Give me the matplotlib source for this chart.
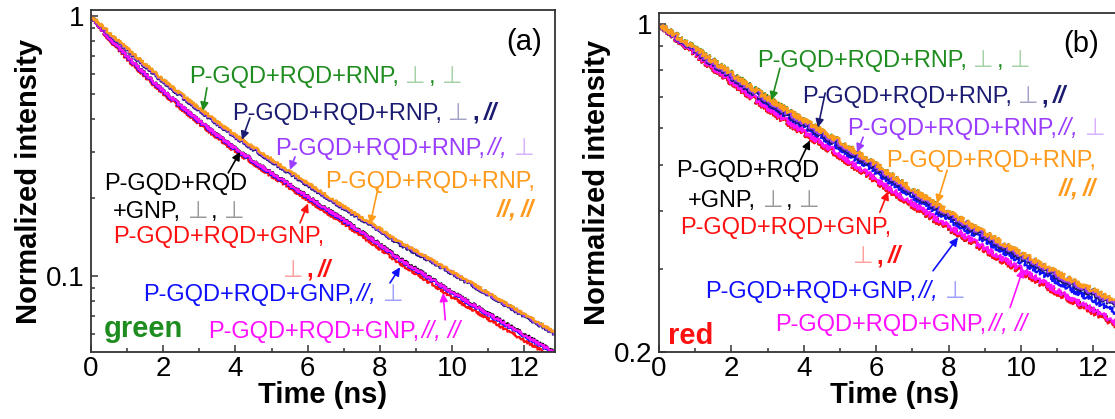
import matplotlib
matplotlib.use("Agg")
import matplotlib.pyplot as plt
import matplotlib.transforms as mtransforms
from matplotlib.ticker import FixedLocator, FixedFormatter, NullFormatter, MultipleLocator

plt.rcParams['font.family'] = ['Liberation Sans', 'DejaVu Sans']

# ---------------------------------------------------------------- data
time_ns = [0.0, 0.5, 1.0, 1.5, 2.0, 2.5, 3.0, 3.5, 4.0, 4.5, 5.0, 5.5, 6.0, 6.5,
           7.0, 7.5, 8.0, 8.5, 9.0, 9.5, 10.0, 10.5, 11.0, 11.5, 12.0, 12.5, 13.0]

# green excitation, panel (a)
g_rnp_pp = [1.000, 0.860, 0.746, 0.648, 0.566, 0.497, 0.439, 0.389, 0.346, 0.311, 0.279, 0.251, 0.226, 0.204,
            0.184, 0.166, 0.151, 0.135, 0.124, 0.113, 0.103, 0.0940, 0.0856, 0.0779, 0.0709, 0.0645, 0.0587]
g_rnp_pl = [1.000, 0.850, 0.735, 0.638, 0.557, 0.489, 0.432, 0.383, 0.341, 0.306, 0.275, 0.247, 0.223, 0.201,
            0.181, 0.164, 0.149, 0.133, 0.122, 0.112, 0.102, 0.0928, 0.0845, 0.0768, 0.0699, 0.0637, 0.0579]
g_rnp_lp = [1.000, 0.855, 0.742, 0.645, 0.563, 0.495, 0.437, 0.387, 0.344, 0.310, 0.278, 0.250, 0.226, 0.203,
            0.183, 0.166, 0.150, 0.135, 0.124, 0.113, 0.103, 0.0937, 0.0852, 0.0776, 0.0706, 0.0643, 0.0584]
g_rnp_ll = [1.000, 0.863, 0.750, 0.652, 0.569, 0.500, 0.442, 0.391, 0.348, 0.313, 0.281, 0.252, 0.228, 0.205,
            0.185, 0.167, 0.152, 0.136, 0.125, 0.114, 0.104, 0.0946, 0.0861, 0.0783, 0.0713, 0.0649, 0.0590]
g_gnp_pp = [1.000, 0.826, 0.701, 0.600, 0.517, 0.451, 0.396, 0.349, 0.310, 0.278, 0.250, 0.225, 0.203, 0.183,
            0.165, 0.148, 0.133, 0.118, 0.107, 0.0965, 0.0870, 0.0792, 0.0720, 0.0656, 0.0597, 0.0543, 0.0494]
g_gnp_pl = [1.000, 0.810, 0.683, 0.583, 0.503, 0.439, 0.385, 0.339, 0.301, 0.270, 0.242, 0.218, 0.196, 0.176,
            0.159, 0.142, 0.127, 0.113, 0.102, 0.0920, 0.0828, 0.0752, 0.0683, 0.0621, 0.0565, 0.0514, 0.0467]
g_gnp_lp = [1.000, 0.820, 0.694, 0.592, 0.511, 0.446, 0.391, 0.345, 0.306, 0.274, 0.246, 0.222, 0.200, 0.180,
            0.162, 0.146, 0.131, 0.116, 0.105, 0.0950, 0.0857, 0.0779, 0.0709, 0.0645, 0.0587, 0.0534, 0.0486]
g_gnp_ll = [1.000, 0.824, 0.700, 0.598, 0.516, 0.450, 0.395, 0.348, 0.309, 0.277, 0.249, 0.224, 0.202, 0.182,
            0.164, 0.147, 0.132, 0.117, 0.106, 0.0959, 0.0865, 0.0787, 0.0716, 0.0652, 0.0593, 0.0540, 0.0491]

# red excitation, panel (b)
r_rnp_pp = [1.000, 0.944, 0.889, 0.836, 0.786, 0.739, 0.696, 0.658, 0.623, 0.591, 0.561, 0.530, 0.500, 0.471,
            0.444, 0.419, 0.396, 0.377, 0.358, 0.340, 0.324, 0.309, 0.294, 0.281, 0.270, 0.258, 0.247]
r_rnp_pl = [1.000, 0.936, 0.876, 0.821, 0.771, 0.724, 0.681, 0.644, 0.611, 0.580, 0.551, 0.520, 0.491, 0.463,
            0.436, 0.412, 0.389, 0.370, 0.352, 0.334, 0.318, 0.304, 0.289, 0.276, 0.265, 0.254, 0.243]
r_rnp_lp = [1.000, 0.938, 0.881, 0.827, 0.777, 0.731, 0.688, 0.651, 0.617, 0.586, 0.556, 0.526, 0.496, 0.467,
            0.440, 0.416, 0.393, 0.374, 0.355, 0.338, 0.322, 0.307, 0.292, 0.279, 0.268, 0.256, 0.245]
r_rnp_ll = [1.000, 0.942, 0.887, 0.834, 0.785, 0.738, 0.695, 0.658, 0.624, 0.592, 0.562, 0.531, 0.501, 0.472,
            0.445, 0.420, 0.397, 0.378, 0.359, 0.341, 0.325, 0.310, 0.295, 0.282, 0.271, 0.259, 0.248]
r_gnp_pp = [1.000, 0.927, 0.862, 0.804, 0.752, 0.703, 0.659, 0.620, 0.585, 0.553, 0.522, 0.491, 0.463, 0.436,
            0.411, 0.388, 0.366, 0.348, 0.330, 0.313, 0.298, 0.282, 0.268, 0.255, 0.244, 0.232, 0.221]
r_gnp_pl = [1.000, 0.928, 0.862, 0.803, 0.751, 0.702, 0.658, 0.619, 0.584, 0.552, 0.521, 0.490, 0.462, 0.435,
            0.410, 0.387, 0.366, 0.348, 0.329, 0.312, 0.297, 0.281, 0.267, 0.254, 0.243, 0.231, 0.220]
r_gnp_lp = [1.000, 0.936, 0.877, 0.822, 0.771, 0.723, 0.679, 0.641, 0.607, 0.575, 0.544, 0.513, 0.484, 0.456,
            0.430, 0.406, 0.383, 0.364, 0.346, 0.328, 0.312, 0.297, 0.283, 0.269, 0.258, 0.246, 0.235]
r_gnp_ll = [1.000, 0.931, 0.867, 0.809, 0.757, 0.708, 0.664, 0.625, 0.590, 0.558, 0.527, 0.495, 0.467, 0.440,
            0.415, 0.392, 0.370, 0.352, 0.333, 0.316, 0.301, 0.285, 0.270, 0.257, 0.246, 0.234, 0.223]

C_GREEN = '#1e8c1e'
C_NAVY = '#1b1b72'
C_PURPLE = '#9b3dff'
C_ORANGE = '#ff9a1a'
C_BLACK = '#000000'
C_RED = '#ff1010'
C_BLUE = '#1010ff'
C_MAGENTA = '#ff10ff'

W, H = 1115, 419
fig = plt.figure(figsize=(W / 100, H / 100), dpi=100)
ax_g = fig.add_axes([91 / W, 1 - 352 / H, 464 / W, 342 / H])
ax_r = fig.add_axes([659 / W, 1 - 352 / H, 13.0 * 36.2 / W, 339 / H])

TICK_PT = 20
LAB_PT = 21
TXT_PT = 17


def style_axes(ax, ylim, ymajor, ylabels, yminor, xmax):
    ax.set_yscale('log')
    ax.set_xlim(0, xmax)
    ax.set_ylim(*ylim)
    ax.yaxis.set_major_locator(FixedLocator(ymajor))
    ax.yaxis.set_major_formatter(FixedFormatter(ylabels))
    ax.yaxis.set_minor_locator(FixedLocator(yminor))
    ax.yaxis.set_minor_formatter(NullFormatter())
    ax.xaxis.set_major_locator(MultipleLocator(2))
    ax.xaxis.set_minor_locator(MultipleLocator(1))
    ax.tick_params(which='both', direction='in', top=False, right=False,
                   labelsize=TICK_PT, width=1.1, color='#333333')
    ax.tick_params(which='major', length=5, pad=5)
    ax.tick_params(which='minor', length=3)
    ax.tick_params(axis='x', which='major', pad=3)
    for sp in ax.spines.values():
        sp.set_color('#333333')
        sp.set_linewidth(1.3)
    ax.set_xlabel('Time (ns)', fontsize=LAB_PT, fontweight='bold', labelpad=-1)
    ax.set_ylabel('Normalized intensity', fontsize=LAB_PT, fontweight='bold', labelpad=2)


style_axes(ax_g, (0.051, 1.054), [0.1, 1], ['0.1', '1'],
           [0.06, 0.07, 0.08, 0.09, 0.2, 0.3, 0.4, 0.5, 0.6, 0.7, 0.8, 0.9], 12.85)
style_axes(ax_r, (0.2, 1.056), [0.2, 1], ['0.2', '1'],
           [0.3, 0.4, 0.5, 0.6, 0.7, 0.8, 0.9], 13.0)


def trace(ax, y, color, scale, lw):
    ln, = ax.plot(time_ns, y, color=color, lw=lw, solid_joinstyle='round')
    ln.set_sketch_params(scale=scale, length=2.0, randomness=3.0)


for y, c in [(g_gnp_pp, C_BLACK), (g_gnp_pl, C_RED), (g_gnp_lp, C_BLUE), (g_gnp_ll, C_MAGENTA),
             (g_rnp_pp, C_GREEN), (g_rnp_pl, C_NAVY), (g_rnp_lp, C_PURPLE), (g_rnp_ll, C_ORANGE)]:
    trace(ax_g, y, c, 1.3, 1.6)

for y, c in [(r_gnp_pp, C_BLACK), (r_gnp_pl, C_RED), (r_gnp_ll, C_MAGENTA), (r_gnp_lp, C_BLUE),
             (r_rnp_pl, C_NAVY), (r_rnp_pp, C_GREEN), (r_rnp_lp, C_PURPLE), (r_rnp_ll, C_ORANGE)]:
    trace(ax_r, y, c, 2.6, 1.6)

renderer = fig.canvas.get_renderer()


def rich_label(ax, x, y, pieces):
    """Draw a run of differently styled text pieces on one baseline."""
    dx = 0.0
    for text, color, kw, gap in pieces:
        tr = mtransforms.offset_copy(ax.transData, fig=fig, x=dx, y=0, units='dots')
        t = ax.text(x, y, text, transform=tr, fontsize=TXT_PT, color=color,
                    va='baseline', ha='left', **kw)
        dx += t.get_window_extent(renderer).width + gap


PERP = '\u22a5'
N = {}
FADE = {'alpha': 0.4}
IT = {'style': 'italic'}
BI = {'style': 'italic', 'weight': 'bold'}
BD = {'weight': 'bold'}
SP = 6.6


def labels(ax, pos):
    rich_label(ax, *pos['green'], [('P-GQD+RQD+RNP,', C_GREEN, N, SP), (PERP, C_GREEN, FADE, 3),
                                   (',', C_GREEN, N, SP), (PERP, C_GREEN, FADE, 0)])
    rich_label(ax, *pos['navy'], [('P-GQD+RQD+RNP,', C_NAVY, N, SP), (PERP, C_NAVY, FADE, 3),
                                  (',', C_NAVY, BD, 5), ('//', C_NAVY, BI, 0)])
    rich_label(ax, *pos['purple'], [('P-GQD+RQD+RNP,', C_PURPLE, N, 2), ('//,', C_PURPLE, IT, SP),
                                    (PERP, C_PURPLE, FADE, 0)])
    rich_label(ax, *pos['orange1'], [('P-GQD+RQD+RNP,', C_ORANGE, N, 0)])
    rich_label(ax, *pos['orange2'], [('//,', C_ORANGE, BI, 4), ('//', C_ORANGE, BI, 0)])
    rich_label(ax, *pos['black1'], [('P-GQD+RQD', C_BLACK, N, 0)])
    rich_label(ax, *pos['black2'], [('+GNP,', C_BLACK, N, SP), (PERP, C_BLACK, FADE, 3),
                                    (',', C_BLACK, N, SP), (PERP, C_BLACK, FADE, 0)])
    rich_label(ax, *pos['red1'], [('P-GQD+RQD+GNP,', C_RED, N, 0)])
    rich_label(ax, *pos['red2'], [(PERP, C_RED, FADE, 3), (',', C_RED, BD, 5), ('//', C_RED, BI, 0)])
    rich_label(ax, *pos['blue'], [('P-GQD+RQD+GNP,', C_BLUE, N, 2), ('//,', C_BLUE, IT, SP),
                                  (PERP, C_BLUE, FADE, 0)])
    rich_label(ax, *pos['magenta'], [('P-GQD+RQD+GNP,', C_MAGENTA, N, 2), ('//,', C_MAGENTA, IT, SP),
                                     ('//', C_MAGENTA, IT, 0)])


def arrows(ax, spec):
    for (tail, tip), c in spec:
        ax.annotate('', xy=tip, xytext=tail,
                    arrowprops=dict(arrowstyle='-|>', color=c, lw=1.2, mutation_scale=12,
                                    shrinkA=0, shrinkB=0))


labels(ax_g, {
    'green': (2.71, 0.552), 'navy': (3.90, 0.398), 'purple': (5.10, 0.292),
    'black1': (0.36, 0.214), 'black2': (0.61, 0.167),
    'red1': (0.61, 0.134), 'red2': (5.32, 0.0991),
    'orange1': (6.48, 0.218), 'orange2': (11.25, 0.1686),
    'blue': (1.44, 0.0801), 'magenta': (3.24, 0.0578),
})
arrows(ax_g, [
    (((3.21, 0.529), (3.10, 0.432)), C_GREEN),
    (((4.40, 0.405), (4.18, 0.334)), C_NAVY),
    (((5.65, 0.287), (5.51, 0.256)), C_PURPLE),
    (((3.80, 0.249), (4.13, 0.300)), C_BLACK),
    (((7.95, 0.218), (7.73, 0.158)), C_ORANGE),
    (((5.79, 0.160), (6.01, 0.190)), C_RED),
    (((8.28, 0.094), (8.56, 0.108)), C_BLUE),
    (((9.81, 0.0678), (9.75, 0.086)), C_MAGENTA),
])
ax_g.text(0.36, 0.0583, 'green', color=C_GREEN, fontsize=LAB_PT, fontweight='bold',
          va='baseline', ha='left')
ax_g.text(0.972, 0.906, '(a)', transform=ax_g.transAxes, fontsize=21,
          ha='right', va='center')

labels(ax_r, {
    'green': (2.70, 0.809), 'navy': (3.94, 0.678), 'purple': (5.19, 0.579),
    'black1': (0.46, 0.471), 'black2': (0.80, 0.408),
    'red1': (0.58, 0.357), 'red2': (5.36, 0.309),
    'orange1': (6.27, 0.495), 'orange2': (11.05, 0.431),
    'blue': (1.27, 0.261), 'magenta': (3.20, 0.222),
})
arrows(ax_r, [
    (((3.34, 0.805), (3.11, 0.688)), C_GREEN),
    (((4.59, 0.713), (4.39, 0.602)), C_NAVY),
    (((5.64, 0.574), (5.47, 0.533)), C_PURPLE),
    (((3.84, 0.500), (4.17, 0.565)), C_BLACK),
    (((7.96, 0.488), (7.68, 0.415)), C_ORANGE),
    (((6.10, 0.397), (6.33, 0.440)), C_RED),
    (((7.57, 0.298), (8.26, 0.351)), C_BLUE),
    (((9.70, 0.249), (10.06, 0.301)), C_MAGENTA),
])
ax_r.text(0.25, 0.208, 'red', color=C_RED, fontsize=LAB_PT, fontweight='bold',
          va='baseline', ha='left')
ax_r.text(12.15, 0.906, '(b)', fontsize=21, ha='right', va='center')

fig.savefig('out.png', dpi=100)
